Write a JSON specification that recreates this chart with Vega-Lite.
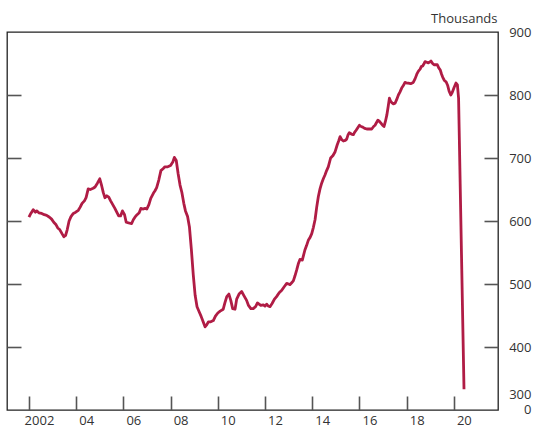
{
  "$schema": "https://vega.github.io/schema/vega-lite/v6.json",
  "width": 491,
  "height": 378,
  "autosize": "none",
  "padding": {"left": 7, "top": 32, "right": 36, "bottom": 20},
  "background": "white",
  "config": {
    "font": "Open Sans",
    "view": {"stroke": "#222", "strokeWidth": 1.3},
    "axis": {"grid": false, "labelFont": "Open Sans", "labelFontSize": 13, "labelColor": "#333", "titleFont": "Open Sans", "tickColor": "#555", "tickWidth": 1.6}
  },
  "data": {"values": [
    {"t": 2002.00, "v": 606}, {"t": 2002.08, "v": 612}, {"t": 2002.18, "v": 618}, {"t": 2002.27, "v": 614},
    {"t": 2002.33, "v": 616}, {"t": 2002.42, "v": 613}, {"t": 2002.54, "v": 612}, {"t": 2002.65, "v": 610},
    {"t": 2002.75, "v": 609}, {"t": 2002.87, "v": 606}, {"t": 2002.96, "v": 603}, {"t": 2003.05, "v": 598},
    {"t": 2003.15, "v": 594}, {"t": 2003.22, "v": 589}, {"t": 2003.31, "v": 586}, {"t": 2003.40, "v": 580},
    {"t": 2003.48, "v": 575}, {"t": 2003.55, "v": 577}, {"t": 2003.62, "v": 586}, {"t": 2003.70, "v": 600},
    {"t": 2003.78, "v": 607}, {"t": 2003.88, "v": 612}, {"t": 2003.98, "v": 614}, {"t": 2004.09, "v": 617},
    {"t": 2004.17, "v": 622}, {"t": 2004.25, "v": 628}, {"t": 2004.35, "v": 632}, {"t": 2004.42, "v": 637},
    {"t": 2004.51, "v": 651}, {"t": 2004.60, "v": 650}, {"t": 2004.72, "v": 652}, {"t": 2004.80, "v": 654},
    {"t": 2004.90, "v": 660}, {"t": 2005.00, "v": 667}, {"t": 2005.08, "v": 656}, {"t": 2005.15, "v": 645},
    {"t": 2005.22, "v": 637}, {"t": 2005.30, "v": 640}, {"t": 2005.38, "v": 638}, {"t": 2005.46, "v": 632},
    {"t": 2005.55, "v": 626}, {"t": 2005.64, "v": 620}, {"t": 2005.72, "v": 614}, {"t": 2005.80, "v": 608},
    {"t": 2005.88, "v": 608}, {"t": 2005.96, "v": 616}, {"t": 2006.05, "v": 610}, {"t": 2006.12, "v": 598},
    {"t": 2006.22, "v": 597}, {"t": 2006.35, "v": 596}, {"t": 2006.42, "v": 602}, {"t": 2006.49, "v": 606},
    {"t": 2006.58, "v": 610}, {"t": 2006.67, "v": 613}, {"t": 2006.74, "v": 620}, {"t": 2006.82, "v": 619},
    {"t": 2006.92, "v": 620}, {"t": 2006.99, "v": 619}, {"t": 2007.08, "v": 626}, {"t": 2007.16, "v": 636},
    {"t": 2007.27, "v": 644}, {"t": 2007.34, "v": 648}, {"t": 2007.41, "v": 653}, {"t": 2007.50, "v": 665},
    {"t": 2007.59, "v": 680}, {"t": 2007.68, "v": 683}, {"t": 2007.76, "v": 686}, {"t": 2007.88, "v": 686},
    {"t": 2008.00, "v": 688}, {"t": 2008.10, "v": 694}, {"t": 2008.16, "v": 701}, {"t": 2008.24, "v": 696},
    {"t": 2008.32, "v": 675}, {"t": 2008.40, "v": 657}, {"t": 2008.48, "v": 645}, {"t": 2008.56, "v": 628},
    {"t": 2008.63, "v": 616}, {"t": 2008.72, "v": 607}, {"t": 2008.80, "v": 590}, {"t": 2008.88, "v": 555},
    {"t": 2008.96, "v": 515}, {"t": 2009.04, "v": 482}, {"t": 2009.12, "v": 464}, {"t": 2009.21, "v": 456},
    {"t": 2009.29, "v": 449}, {"t": 2009.38, "v": 440}, {"t": 2009.46, "v": 432}, {"t": 2009.53, "v": 435},
    {"t": 2009.60, "v": 440}, {"t": 2009.70, "v": 440}, {"t": 2009.81, "v": 442}, {"t": 2009.90, "v": 449},
    {"t": 2010.00, "v": 454}, {"t": 2010.10, "v": 457}, {"t": 2010.23, "v": 460}, {"t": 2010.30, "v": 470},
    {"t": 2010.38, "v": 480}, {"t": 2010.47, "v": 484}, {"t": 2010.55, "v": 474}, {"t": 2010.63, "v": 461},
    {"t": 2010.73, "v": 460}, {"t": 2010.80, "v": 476}, {"t": 2010.90, "v": 484}, {"t": 2011.01, "v": 488},
    {"t": 2011.10, "v": 482}, {"t": 2011.22, "v": 474}, {"t": 2011.30, "v": 466}, {"t": 2011.40, "v": 461},
    {"t": 2011.50, "v": 461}, {"t": 2011.60, "v": 464}, {"t": 2011.68, "v": 470}, {"t": 2011.75, "v": 468},
    {"t": 2011.82, "v": 466}, {"t": 2011.93, "v": 467}, {"t": 2012.00, "v": 465}, {"t": 2012.07, "v": 468},
    {"t": 2012.14, "v": 465}, {"t": 2012.21, "v": 464}, {"t": 2012.30, "v": 469}, {"t": 2012.40, "v": 476},
    {"t": 2012.49, "v": 480}, {"t": 2012.60, "v": 486}, {"t": 2012.71, "v": 490}, {"t": 2012.82, "v": 496},
    {"t": 2012.92, "v": 501}, {"t": 2013.00, "v": 500}, {"t": 2013.06, "v": 499}, {"t": 2013.13, "v": 502},
    {"t": 2013.20, "v": 505}, {"t": 2013.27, "v": 513}, {"t": 2013.34, "v": 522}, {"t": 2013.41, "v": 532},
    {"t": 2013.48, "v": 539}, {"t": 2013.58, "v": 538}, {"t": 2013.69, "v": 554}, {"t": 2013.76, "v": 561},
    {"t": 2013.84, "v": 570}, {"t": 2013.91, "v": 574}, {"t": 2013.98, "v": 580}, {"t": 2014.05, "v": 590},
    {"t": 2014.12, "v": 602}, {"t": 2014.19, "v": 622}, {"t": 2014.26, "v": 639}, {"t": 2014.33, "v": 651},
    {"t": 2014.40, "v": 660}, {"t": 2014.47, "v": 667}, {"t": 2014.54, "v": 673}, {"t": 2014.61, "v": 680},
    {"t": 2014.68, "v": 686}, {"t": 2014.78, "v": 700}, {"t": 2014.88, "v": 704}, {"t": 2014.97, "v": 710},
    {"t": 2015.06, "v": 721}, {"t": 2015.12, "v": 727}, {"t": 2015.18, "v": 734}, {"t": 2015.25, "v": 729},
    {"t": 2015.32, "v": 727}, {"t": 2015.40, "v": 728}, {"t": 2015.46, "v": 730}, {"t": 2015.52, "v": 737},
    {"t": 2015.57, "v": 740}, {"t": 2015.66, "v": 738}, {"t": 2015.74, "v": 737}, {"t": 2015.80, "v": 741},
    {"t": 2015.86, "v": 744}, {"t": 2015.93, "v": 748}, {"t": 2016.00, "v": 752}, {"t": 2016.07, "v": 750},
    {"t": 2016.14, "v": 749}, {"t": 2016.22, "v": 747}, {"t": 2016.31, "v": 746}, {"t": 2016.42, "v": 746},
    {"t": 2016.52, "v": 746}, {"t": 2016.60, "v": 750}, {"t": 2016.66, "v": 752}, {"t": 2016.72, "v": 756},
    {"t": 2016.78, "v": 760}, {"t": 2016.85, "v": 758}, {"t": 2016.92, "v": 755}, {"t": 2016.98, "v": 752},
    {"t": 2017.04, "v": 750}, {"t": 2017.10, "v": 758}, {"t": 2017.16, "v": 768}, {"t": 2017.22, "v": 782},
    {"t": 2017.27, "v": 795}, {"t": 2017.32, "v": 790}, {"t": 2017.37, "v": 788}, {"t": 2017.44, "v": 786},
    {"t": 2017.51, "v": 787}, {"t": 2017.58, "v": 793}, {"t": 2017.65, "v": 800}, {"t": 2017.72, "v": 805},
    {"t": 2017.79, "v": 811}, {"t": 2017.86, "v": 815}, {"t": 2017.93, "v": 820}, {"t": 2018.00, "v": 819},
    {"t": 2018.07, "v": 819}, {"t": 2018.17, "v": 818}, {"t": 2018.28, "v": 820}, {"t": 2018.36, "v": 826},
    {"t": 2018.43, "v": 833}, {"t": 2018.50, "v": 838}, {"t": 2018.57, "v": 841}, {"t": 2018.62, "v": 845},
    {"t": 2018.68, "v": 846}, {"t": 2018.74, "v": 850}, {"t": 2018.78, "v": 853}, {"t": 2018.85, "v": 852},
    {"t": 2018.92, "v": 851}, {"t": 2019.00, "v": 853}, {"t": 2019.03, "v": 854}, {"t": 2019.10, "v": 850},
    {"t": 2019.16, "v": 848}, {"t": 2019.23, "v": 848}, {"t": 2019.30, "v": 848}, {"t": 2019.36, "v": 843},
    {"t": 2019.42, "v": 840}, {"t": 2019.48, "v": 833}, {"t": 2019.53, "v": 828}, {"t": 2019.60, "v": 823},
    {"t": 2019.67, "v": 821}, {"t": 2019.74, "v": 815}, {"t": 2019.80, "v": 806}, {"t": 2019.87, "v": 800},
    {"t": 2019.93, "v": 804}, {"t": 2020.01, "v": 812}, {"t": 2020.09, "v": 819}, {"t": 2020.15, "v": 816},
    {"t": 2020.20, "v": 795}, {"t": 2020.43, "v": 333}
  ]},
  "layer": [
    {
      "mark": {"type": "line", "color": "#b01c45", "strokeWidth": 2.8, "strokeJoin": "round", "clip": true},
      "encoding": {
        "x": {
          "field": "t", "type": "quantitative",
          "scale": {"domain": [2001.07, 2021.87], "nice": false, "zero": false},
          "axis": {
            "orient": "bottom", "title": null, "domain": false,
            "values": [2002, 2004, 2006, 2008, 2010, 2012, 2014, 2016, 2018, 2020],
            "tickSize": -14, "labelPadding": 18, "labelOffset": 10, "labelFlush": false, "labelOverlap": false,
            "labelExpr": "datum.value == 2002 ? '2002' : substring(toString(datum.value), 2, 4)"
          }
        },
        "y": {
          "field": "v", "type": "quantitative",
          "scale": {"domain": [300, 900], "nice": false, "zero": false},
          "axis": {
            "orient": "right", "domain": false,
            "values": [301.0, 324.5, 400, 500, 600, 700, 800, 900],
            "tickSize": -14, "labelPadding": 47, "labelAlign": "right", "labelBaseline": "middle",
            "labelFlush": false, "labelOverlap": false,
            "tickOpacity": {"condition": {"test": "datum.value < 350 || datum.value > 850", "value": 0}, "value": 1},
            "labelExpr": "datum.value < 310 ? '0' : datum.value < 350 ? '300' : datum.label",
            "title": "Thousands", "titleAngle": 0, "titleAlign": "right", "titleBaseline": "alphabetic",
            "titleX": -1, "titleY": -10, "titleFontSize": 13, "titleFontWeight": "normal", "titleColor": "#333"
          }
        }
      }
    },
    {
      "mark": {"type": "line", "opacity": 0},
      "encoding": {
        "x": {"field": "t", "type": "quantitative"},
        "y": {
          "field": "v", "type": "quantitative",
          "axis": {
            "orient": "left", "domain": false, "labels": false, "title": null,
            "values": [400, 500, 600, 700, 800], "tickSize": -14
          }
        }
      }
    }
  ],
  "resolve": {"axis": {"y": "independent"}}
}
